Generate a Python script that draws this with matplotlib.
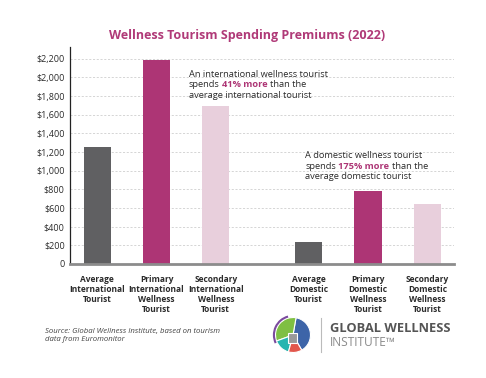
import matplotlib.pyplot as plt
from matplotlib.patches import Wedge, Rectangle

plt.rcParams['font.family'] = 'Open Sans'

# data
categories = ['Average\nInternational\nTourist',
              'Primary\nInternational\nWellness\nTourist',
              'Secondary\nInternational\nWellness\nTourist',
              'Average\nDomestic\nTourist',
              'Primary\nDomestic\nWellness\nTourist',
              'Secondary\nDomestic\nWellness\nTourist']
spending = [1250, 2190, 1690, 235, 785, 645]
yticks = list(range(0, 2201, 200))
ytick_labels = ['0'] + ['${:,}'.format(v) for v in yticks[1:]]

positions = [0, 1, 2, 3.57, 4.57, 5.57]
bar_colors = ['#606062', '#ad3575', '#e8cfdc'] * 2
magenta = '#ad3575'
text_col = '#2b2b2b'

fig = plt.figure(figsize=(4.86, 3.78), dpi=100)
ax = fig.add_axes([0.1447, 0.3016, 0.7893, 0.5749])

ax.bar(positions, spending, width=0.46, color=bar_colors, zorder=3)
ax.set_xlim(-0.455, 6.02)
ax.set_ylim(0, 2330)
ax.set_yticks(yticks)
ax.set_yticklabels(ytick_labels)
ax.set_xticks(positions)
ax.set_xticklabels(categories, fontweight='bold', fontsize=6, linespacing=1.15)
ax.tick_params(axis='y', length=0, pad=4, labelsize=6.5, labelcolor=text_col)
ax.tick_params(axis='x', length=0, pad=8, labelcolor=text_col)
ax.grid(axis='y', color='#cfcfcf', linestyle=(0, (2.5, 2)), linewidth=0.6, zorder=0)

for s in ['top', 'right']:
    ax.spines[s].set_visible(False)
ax.spines['left'].set_color('#222222')
ax.spines['left'].set_linewidth(0.9)
ax.spines['bottom'].set_color('#8c8c8c')
ax.spines['bottom'].set_linewidth(2)
ax.spines['bottom'].set_zorder(4)

fig.text(0.508, 0.907, 'Wellness Tourism Spending Premiums (2022)',
         ha='center', va='center', fontsize=9, fontweight='bold', color='#b03a78')

# rich text annotations
renderer = fig.canvas.get_renderer()


def text_width(s, weight):
    t = fig.text(0, 0, s, fontsize=6.7, fontweight=weight)
    w = t.get_window_extent(renderer).width
    t.remove()
    return w


space = text_width('a a', 'normal') - text_width('aa', 'normal')


def rich_text(x, y, lines, step):
    for i, parts in enumerate(lines):
        off = 0
        for s, bold in parts:
            weight = 'bold' if bold else 'normal'
            ax.annotate(s, xy=(x, y - i * step), xycoords='data',
                        xytext=(off, 0), textcoords='offset pixels',
                        ha='left', va='center_baseline', fontsize=6.7,
                        fontweight=weight, color=magenta if bold else text_col)
            off += text_width(s, weight) + space


rich_text(1.54, 2046, [[('An international wellness tourist', False)],
                       [('spends', False), ('41% more', True), ('than the', False)],
                       [('average international tourist', False)]], 113)
rich_text(3.51, 1170, [[('A domestic wellness tourist', False)],
                       [('spends', False), ('175% more', True), ('than the', False)],
                       [('average domestic tourist', False)]], 113)

fig.text(45 / 486, 1 - 335.5 / 378,
         'Source: Global Wellness Institute, based on tourism\ndata from Euromonitor',
         ha='left', va='center', fontsize=5.6, style='italic', color='#444444',
         linespacing=1.25)

# logo
logo = fig.add_axes([272 / 486, 1 - 356 / 378, 42 / 486, 42 / 378])
logo.set_xlim(-1.2, 1.2)
logo.set_ylim(-1.2, 1.2)
logo.set_aspect('equal')
logo.axis('off')
logo.add_patch(Wedge((0, 0), 1, -60, 80, facecolor='#3d64a8', edgecolor='white', linewidth=0.8))
logo.add_patch(Wedge((0, 0), 1, 80, 200, facecolor='#7fbf43', edgecolor='white', linewidth=0.8))
logo.add_patch(Wedge((0, 0), 1, 200, 255, facecolor='#27b5b0', edgecolor='white', linewidth=0.8))
logo.add_patch(Wedge((0, 0), 1, 255, 300, facecolor='#e2574c', edgecolor='white', linewidth=0.8))
logo.add_patch(Wedge((0, 0), 1.15, 105, 205, width=0.12, facecolor='#7b4a9e', edgecolor='none'))
logo.add_patch(Rectangle((-0.3, -0.45), 0.55, 0.55, facecolor='#9a9a9a', edgecolor='white', linewidth=0.8))

fig.add_artist(plt.Line2D([320.7 / 486, 320.7 / 486], [1 - 318 / 378, 1 - 352 / 378],
                          color='#bbbbbb', linewidth=0.8))
fig.text(329.5 / 486, 1 - 328.5 / 378, 'GLOBAL WELLNESS', ha='left', va='center',
         fontsize=9.3, fontweight='bold', color='#555555')
fig.text(329.5 / 486, 1 - 343 / 378, 'INSTITUTE\u2122', ha='left', va='center',
         fontsize=8.6, color='#8a8a8a')

fig.savefig('out.png', dpi=100)
